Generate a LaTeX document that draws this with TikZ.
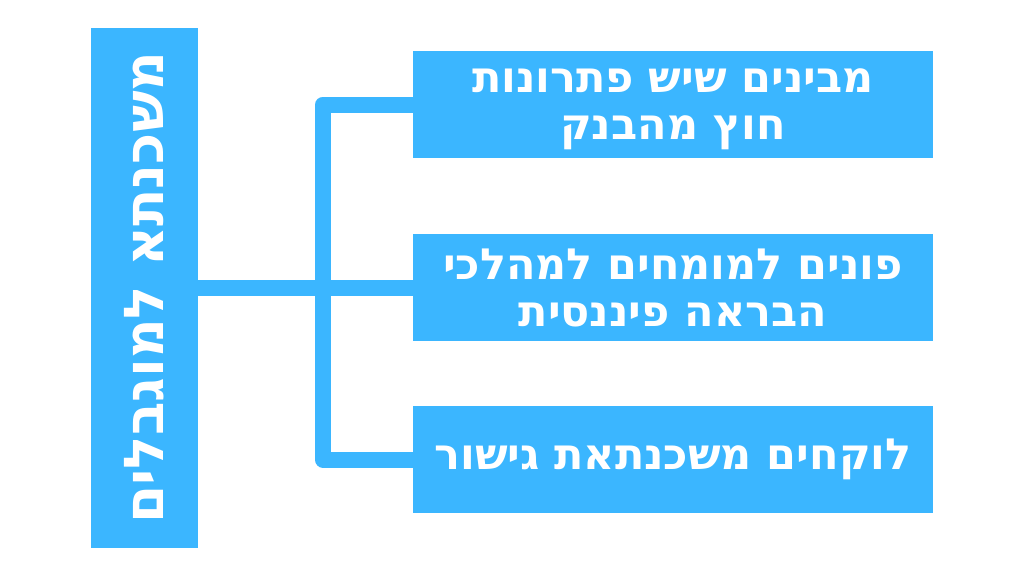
\documentclass[tikz,border=0pt]{standalone}
\usepackage{fontspec}
\newfontfamily\heb[Script=Hebrew]{DejaVu Sans}
\TeXXeTstate=1
\definecolor{sky}{RGB}{59,182,255}
\begin{document}
\begin{tikzpicture}[x=1pt,y=-1pt,
  box/.style={fill=sky, draw=none, inner sep=0pt, minimum width=520pt, minimum height=107pt},
  label/.style={text=white, align=center, inner sep=0pt, font=\heb\bfseries\fontsize{43}{47}\selectfont},
  conn/.style={draw=sky, line width=16pt, line join=round}]
\fill[white] (0,0) rectangle (1024,576);
\useasboundingbox (0,0) rectangle (1024,576);
% left main box
\node[box, minimum width=107pt, minimum height=520pt] (main) at (144.5,287.5) {};
\node[label, rotate=90, font=\heb\bfseries\fontsize{55}{60}\selectfont] (maintext) at (main.center) {\beginR משכנתא למוגבלים\endR};
% right boxes
\node[box] (b1) at (673,104.5) {};
\node[box] (b2) at (673,287.5) {};
\node[box] (b3) at (673,459.5) {};
\node[label, yshift=-5pt] (t1) at (b1.center) {\beginR מבינים שיש פתרונות\endR\\\beginR חוץ מהבנק\endR};
\node[label] (t2) at (b2.center) {\beginR פונים למומחים למהלכי\endR\\\beginR הבראה פיננסית\endR};
\node[label] (t3) at (b3.center) {\beginR לוקחים משכנתאת גישור\endR};
% connectors
\coordinate (trunk) at (323,287.5);
\draw[conn] (main.east) -- (b2.west);
\draw[conn] (b1.west) -| (trunk) |- (b3.west);
\end{tikzpicture}
\end{document}
